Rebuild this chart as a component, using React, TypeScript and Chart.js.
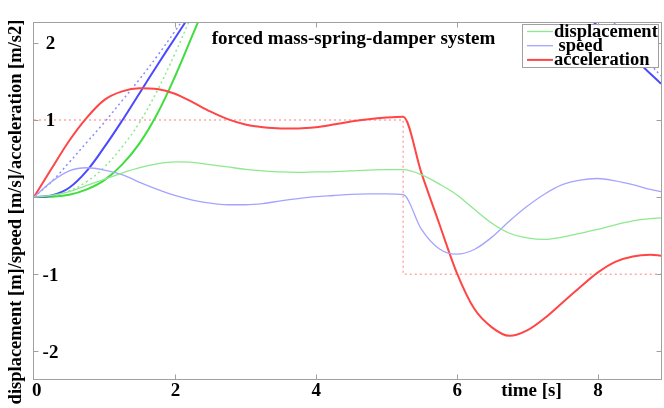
import React, { useEffect, useRef } from "react";
import { Chart, registerables } from "chart.js";
Chart.register(...registerables);

const TITLE = "forced mass-spring-damper system";
const X_LABEL = "time [s]";
const Y_LABEL = "displacement [m]/speed [m/s]/acceleration [m/s2]";

const T = [0, 0.25, 0.5, 0.75, 1, 1.25, 1.5, 1.75, 2, 2.25, 2.5, 2.75, 3, 3.25, 3.5, 3.75, 4, 4.25, 4.5, 4.75, 5, 5.24, 5.5, 5.75, 6, 6.25, 6.5, 6.75, 7, 7.25, 7.5, 7.75, 8, 8.25, 8.5, 8.75, 8.9];

const displacement = [0, 0.02, 0.07, 0.15, 0.23, 0.31, 0.38, 0.43, 0.455, 0.45, 0.42, 0.39, 0.36, 0.34, 0.325, 0.32, 0.325, 0.33, 0.34, 0.35, 0.355, 0.355, 0.29, 0.17, 0.03, -0.16, -0.34, -0.47, -0.53, -0.55, -0.52, -0.47, -0.42, -0.36, -0.31, -0.28, -0.27];
const speed = [0, 0.2, 0.34, 0.38, 0.35, 0.29, 0.19, 0.1, 0.02, -0.04, -0.08, -0.1, -0.1, -0.085, -0.05, -0.02, 0.005, 0.02, 0.035, 0.04, 0.04, 0.03, -0.42, -0.67, -0.74, -0.68, -0.52, -0.31, -0.12, 0.04, 0.16, 0.22, 0.24, 0.21, 0.16, 0.1, 0.07];
const acceleration = [0, 0.37, 0.73, 1.03, 1.26, 1.37, 1.41, 1.4, 1.34, 1.23, 1.11, 1.01, 0.94, 0.905, 0.89, 0.89, 0.905, 0.94, 0.98, 1.01, 1.03, 1.04, 0.31, -0.34, -0.98, -1.45, -1.69, -1.8, -1.73, -1.57, -1.37, -1.17, -0.98, -0.84, -0.77, -0.75, -0.76];

const N = null;
const blueThick = [0, 0.02, 0.12, 0.34, 0.65, 0.99, 1.35, 1.71, 2.06, 2.41, N, N, N, N, N, N, N, N, N, N, N, N, N, N, N, N, N, N, N, N, N, 2.43, 2.22, 2.01, 1.81, 1.6, 1.47];
const greenThick = [0, 0.005, 0.03, 0.1, 0.22, 0.42, 0.7, 1.08, 1.56, 2.1, 2.64, N, N, N, N, N, N, N, N, N, N, N, N, N, N, N, N, N, N, N, N, N, N, N, N, N, N];
const blueDotted = [0, 0.2, 0.45, 0.71, 0.97, 1.25, 1.53, 1.83, 2.15, 2.48, N, N, N, N, N, N, N, N, N, N, N, N, N, N, N, N, N, N, N, N, N, N, 2.5, 2.24, 1.98, 1.72, 1.57];
const greenDotted = [0, 0.02, 0.08, 0.2, 0.39, 0.65, 0.97, 1.38, 1.86, 2.38, N, N, N, N, N, N, N, N, N, N, N, N, N, N, N, N, N, N, N, N, N, N, N, N, N, N, N];

const FORCE_T = [0, 5.24, 5.24, 8.9];
const force = [1, 1, -1, -1];

const X_TICKS = [0, 2, 4, 6, 8];
const Y_TICKS = [-2, -1, 0, 1, 2];
const Y_TICK_LABELS = ["-2", "-1", "", "1", "2"];

const FONT = '"Liberation Serif", "Times New Roman", serif';

const pts = (xs: number[], ys: (number | null)[]) => xs.map((x, i) => ({ x, y: ys[i] }));

const decoPlugin = {
  id: "deco",
  afterDatasetsDraw(chart: any) {
    const { ctx, chartArea: ca, scales } = chart;
    const xs = scales.x;
    const ys = scales.y;
    ctx.save();
    const xL = Math.round(ca.left) - 0.5;
    const xR = Math.round(ca.right) + 0.5;
    const yT = Math.round(ca.top) + 0.5;
    const yB = Math.round(ca.bottom) + 0.5;
    ctx.strokeStyle = "#a0a0a0";
    ctx.lineWidth = 1;
    ctx.strokeRect(xL, yT, xR - xL, yB - yT);
    ctx.beginPath();
    X_TICKS.forEach((v) => {
      if (v === 0) return;
      const px = Math.round(xs.getPixelForValue(v)) + 0.5;
      ctx.moveTo(px, yB);
      ctx.lineTo(px, yB - 5);
      ctx.moveTo(px, yT);
      ctx.lineTo(px, yT + 5);
    });
    Y_TICKS.forEach((v) => {
      const py = Math.round(ys.getPixelForValue(v)) + 0.5;
      ctx.moveTo(xL, py);
      ctx.lineTo(xL + 5, py);
      ctx.moveTo(xR, py);
      ctx.lineTo(xR - 5, py);
    });
    ctx.stroke();

    ctx.fillStyle = "#000";
    ctx.font = "bold 19px " + FONT;
    ctx.textBaseline = "alphabetic";
    ctx.textAlign = "center";
    Y_TICKS.forEach((v, i) => {
      const lab = Y_TICK_LABELS[i];
      if (!lab) return;
      ctx.fillText(lab, 50.5, ys.getPixelForValue(v) + 6.5);
    });
    X_TICKS.forEach((v) => {
      const px = xs.getPixelForValue(v);
      if (v === 0) {
        ctx.textAlign = "left";
        ctx.fillText(String(v), px - 2, 396);
        ctx.textAlign = "center";
      } else {
        ctx.fillText(String(v), px + 0.5, 396);
      }
    });
    ctx.fillText(X_LABEL, 531.5, 396);

    ctx.fillText(TITLE, 353.5, 44);

    ctx.save();
    ctx.font = "bold 18.5px " + FONT;
    ctx.translate(21, 212);
    ctx.rotate(-Math.PI / 2);
    ctx.fillText(Y_LABEL, 0, 0);
    ctx.restore();

    // legend box
    const lx = 522.5, ly = 24.5, lw = 136, lh = 43;
    ctx.fillStyle = "#fff";
    ctx.fillRect(lx, ly, lw, lh);
    ctx.strokeStyle = "#a0a0a0";
    ctx.strokeRect(lx, ly, lw, lh);
    const items = chart.data.datasets.filter((d: any) => d.label);
    items.forEach((d: any, i: number) => {
      const base = 36.5 + i * 14.2;
      ctx.strokeStyle = d.borderColor;
      ctx.lineWidth = d.borderWidth;
      ctx.setLineDash([]);
      ctx.beginPath();
      ctx.moveTo(527, base - 5);
      ctx.lineTo(553, base - 5);
      ctx.stroke();
      ctx.fillStyle = "#000";
      ctx.textAlign = "left";
      ctx.font = "bold 18.5px " + FONT;
      ctx.fillText(d.label, i === 1 ? 558.5 : 554, base);
    });
    ctx.restore();
  },
};

export default function App() {
  const ref = useRef<HTMLCanvasElement>(null);
  useEffect(() => {
    const canvas = ref.current!;
    const mono = { pointRadius: 0, clip: 0, spanGaps: false, cubicInterpolationMode: "monotone" as const };
    const smooth = { pointRadius: 0, clip: 0, spanGaps: false, tension: 0.4 };
    const chart = new Chart(canvas, {
      type: "line",
      data: {
        datasets: [
          { label: "displacement", data: pts(T, displacement), borderColor: "#8ee88e", borderWidth: 1.3, ...mono },
          { label: "speed", data: pts(T, speed), borderColor: "#a4a4ff", borderWidth: 1.3, ...mono },
          { label: "acceleration", data: pts(T, acceleration), borderColor: "#ff4545", borderWidth: 2, ...mono },
          { data: pts(T, blueThick), borderColor: "#4a4aff", borderWidth: 2, ...smooth },
          { data: pts(T, greenThick), borderColor: "#3ede3e", borderWidth: 2, ...smooth },
          { data: pts(T, blueDotted), borderColor: "#8c8cff", borderWidth: 1.5, borderDash: [2, 3], ...smooth },
          { data: pts(T, greenDotted), borderColor: "#8ee88e", borderWidth: 1.5, borderDash: [2, 3], ...smooth },
          { data: pts(FORCE_T, force), borderColor: "#ffa8a8", borderWidth: 1.5, borderDash: [2, 3], pointRadius: 0, clip: 0, tension: 0 },
        ] as any,
      },
      options: {
        responsive: false,
        animation: false,
        layout: { padding: { left: 34, top: 22, right: 3, bottom: 29 } },
        plugins: { legend: { display: false }, tooltip: { enabled: false }, title: { display: false } },
        scales: {
          x: { type: "linear", min: 0, max: 8.9, display: false },
          y: { type: "linear", min: -2.36, max: 2.27, display: false },
        },
      },
      plugins: [decoPlugin],
    });
    return () => chart.destroy();
  }, []);
  return (
    <div style={{ position: "fixed", left: 0, top: 0, width: 664, height: 408, background: "#fff" }}>
      <canvas ref={ref} width={664} height={408} style={{ display: "block", width: 664, height: 408 }} />
    </div>
  );
}
